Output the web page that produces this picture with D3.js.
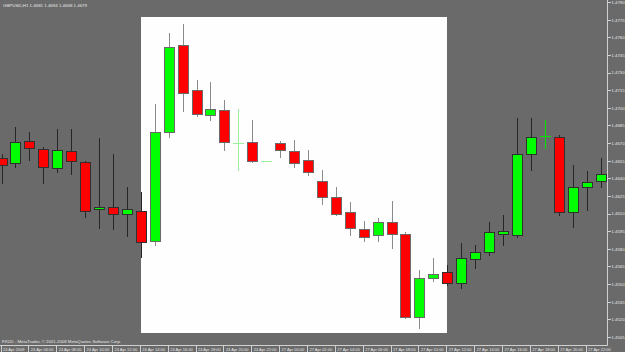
<!DOCTYPE html>
<html>
<head>
<meta charset="utf-8">
<script src="https://cdn.jsdelivr.net/npm/d3@7/dist/d3.min.js"></script>
<style>
body { margin: 0; background: #6a6a6a; overflow: hidden; }
svg { display: block; }
text { font-family: "Liberation Sans", Arial, sans-serif; fill: #e8e8e8; }
.axis line { stroke: #d0d0d0; shape-rendering: crispEdges; }
</style>
</head>
<body>
<svg id="svg1" width="625" height="352"></svg>
<script>
// GBPUSD H1 candles, 24-27 Apr 2009
var times = ['24 Apr 04:00','24 Apr 05:00','24 Apr 06:00','24 Apr 07:00','24 Apr 08:00','24 Apr 09:00',
    '24 Apr 10:00','24 Apr 11:00','24 Apr 12:00','24 Apr 13:00','24 Apr 14:00','24 Apr 15:00',
    '24 Apr 16:00','24 Apr 17:00','24 Apr 18:00','24 Apr 19:00','24 Apr 20:00','24 Apr 21:00',
    '24 Apr 22:00','24 Apr 23:00','27 Apr 00:00','27 Apr 01:00','27 Apr 02:00','27 Apr 03:00',
    '27 Apr 04:00','27 Apr 05:00','27 Apr 06:00','27 Apr 07:00','27 Apr 08:00','27 Apr 09:00',
    '27 Apr 10:00','27 Apr 11:00','27 Apr 12:00','27 Apr 13:00','27 Apr 14:00','27 Apr 15:00',
    '27 Apr 16:00','27 Apr 17:00','27 Apr 18:00','27 Apr 19:00','27 Apr 20:00','27 Apr 21:00',
    '27 Apr 22:00','27 Apr 23:00'];

var openP  = [1.4657,1.4653,1.4672,1.4665,1.4649,1.4663,1.4654,1.4614,1.4616,1.4610,1.4612,1.4587,
    1.4679,1.4753,1.4715,1.4694,1.4698,1.4670,1.4671,1.4655,1.4670,1.4663,1.4656,1.4638,
    1.4624,1.4611,1.4597,1.4592,1.4603,1.4593,1.4522,1.4555,1.4560,1.4551,1.4571,1.4577,
    1.4593,1.4592,1.4661,1.4676,1.4675,1.4611,1.4633,1.4638];
var highP  = [1.4661,1.4684,1.4679,1.4667,1.4682,1.4682,1.4655,1.4674,1.4661,1.4633,1.4628,1.4703,
    1.4764,1.4771,1.4724,1.4722,1.4707,1.4699,1.4690,1.4655,1.4672,1.4673,1.4664,1.4647,
    1.4633,1.4620,1.4604,1.4606,1.4621,1.4594,1.4562,1.4572,1.4566,1.4585,1.4583,1.4603,
    1.4609,1.4691,1.4691,1.4690,1.4677,1.4651,1.4646,1.4657];
var lowP   = [1.4636,1.4650,1.4656,1.4636,1.4645,1.4644,1.4607,1.4598,1.4597,1.4591,1.4573,1.4583,
    1.4675,1.4697,1.4693,1.4690,1.4664,1.4647,1.4654,1.4655,1.4658,1.4650,1.4643,1.4618,
    1.4609,1.4592,1.4587,1.4587,1.4581,1.4521,1.4513,1.4553,1.4549,1.4547,1.4564,1.4575,
    1.4583,1.4590,1.4647,1.4666,1.4609,1.4599,1.4613,1.4633];
var closeP = [1.4651,1.4671,1.4666,1.4650,1.4664,1.4655,1.4612,1.4616,1.4610,1.4614,1.4586,1.4679,
    1.4752,1.4713,1.4695,1.4699,1.4671,1.4670,1.4655,1.4655,1.4664,1.4653,1.4645,1.4624,
    1.4610,1.4598,1.4590,1.4603,1.4593,1.4522,1.4555,1.4559,1.4551,1.4572,1.4577,1.4594,
    1.4595,1.4661,1.4675,1.4676,1.4611,1.4633,1.4637,1.4644];

var priceTicks = [1.4505,1.4520,1.4535,1.4550,1.4565,1.4580,1.4595,1.4610,1.4625,1.4640,
    1.4655,1.4670,1.4685,1.4700,1.4715,1.4730,1.4745,1.4760,1.4775,1.4790];

var dateLabels = ['24 Apr 2009','24 Apr 06:00','24 Apr 08:00','24 Apr 10:00','24 Apr 12:00','24 Apr 14:00',
    '24 Apr 16:00','24 Apr 18:00','24 Apr 20:00','24 Apr 22:00','27 Apr 00:00','27 Apr 02:00',
    '27 Apr 04:00','27 Apr 06:00','27 Apr 08:00','27 Apr 10:00','27 Apr 12:00','27 Apr 14:00',
    '27 Apr 16:00','27 Apr 18:00','27 Apr 20:00','27 Apr 22:00'];

var header = 'GBPUSD,H1  1.4681 1.4694 1.4668 1.4679';
var copyright = 'FXDD - MetaTrader, \u00a9 2001-2008 MetaQuotes Software Corp.';

// highlighted window (candle indices)
var hiFrom = 10, hiTo = 32;

var svg = d3.select('#svg1');
var svgWidth = +svg.attr('width');
var svgHeight = +svg.attr('height');

var axisX = 607, axisY = 345;

var candles = times.map(function(t, i) {
    return {t: t, i: i, o: openP[i], h: highP[i], l: lowP[i], c: closeP[i]};
});

var xScale = d3.scaleLinear().domain([0, times.length - 1]).range([1.5, 600.5]);
var yScale = d3.scaleLinear().domain([1.4505, 1.4790]).range([337, 2]);

svg.append('rect')
    .attr('width', svgWidth)
    .attr('height', svgHeight)
    .style('fill', '#6a6a6a');

// white highlight panel
svg.append('rect')
    .attr('x', Math.round(xScale(hiFrom)))
    .attr('y', 17)
    .attr('width', Math.round(xScale(hiTo)) - Math.round(xScale(hiFrom)))
    .attr('height', 316)
    .style('fill', '#fefefe');

function inside(d) { return d.i > hiFrom && d.i < hiTo; }
function px(v) { return Math.round(v) + 0.5; }

var g = svg.append('g');

g.selectAll('.wick')
    .data(candles)
    .enter()
    .append('line')
    .attr('class', 'wick')
    .attr('x1', function(d) { return px(xScale(d.i)); })
    .attr('x2', function(d) { return px(xScale(d.i)); })
    .attr('y1', function(d) { return Math.round(yScale(d.h)); })
    .attr('y2', function(d) { return Math.round(yScale(d.l)) + 1; })
    .style('stroke', function(d) {
        if (d.o == d.c) return inside(d) ? '#9cf09c' : '#00e000';
        return inside(d) ? '#8a8a8a' : '#262626';
    })
    .style('shape-rendering', 'crispEdges');

var bodies = candles.filter(function(d) { return d.o != d.c; });
var dojis = candles.filter(function(d) { return d.o == d.c; });

g.selectAll('.body')
    .data(bodies)
    .enter()
    .append('rect')
    .attr('class', 'body')
    .attr('x', function(d) { return Math.round(xScale(d.i)) - 5 + 0.5; })
    .attr('y', function(d) { return Math.round(yScale(Math.max(d.o, d.c))) + 0.5; })
    .attr('width', 10)
    .attr('height', function(d) {
        return Math.max(1, Math.round(yScale(Math.min(d.o, d.c))) - Math.round(yScale(Math.max(d.o, d.c))));
    })
    .style('fill', function(d) { return d.c > d.o ? '#00ff00' : '#ff0000'; })
    .style('stroke', function(d) { return inside(d) ? '#6a6a6a' : '#303030'; })
    .style('shape-rendering', 'crispEdges');

g.selectAll('.doji')
    .data(dojis)
    .enter()
    .append('line')
    .attr('class', 'doji')
    .attr('x1', function(d) { return Math.round(xScale(d.i)) - 5; })
    .attr('x2', function(d) { return Math.round(xScale(d.i)) + 6; })
    .attr('y1', function(d) { return px(yScale(d.o)); })
    .attr('y2', function(d) { return px(yScale(d.o)); })
    .style('stroke', function(d) { return inside(d) ? '#9cf09c' : '#00e000'; })
    .style('shape-rendering', 'crispEdges');

// frame
svg.append('line')
    .attr('x1', axisX + 0.5).attr('x2', axisX + 0.5)
    .attr('y1', 0).attr('y2', axisY + 0.5)
    .style('stroke', '#d0d0d0');
svg.append('line')
    .attr('x1', 0).attr('x2', axisX + 0.5)
    .attr('y1', axisY + 0.5).attr('y2', axisY + 0.5)
    .style('stroke', '#d0d0d0');

// price axis
var yAxis = d3.axisRight(yScale)
    .tickValues(priceTicks)
    .tickSize(3)
    .tickFormat(d3.format('.4f'));

svg.append('g')
    .attr('class', 'axis')
    .attr('transform', 'translate(' + [axisX + 0.5, 0] + ')')
    .call(yAxis)
    .call(function(a) {
        a.select('.domain').remove();
        a.selectAll('text')
            .attr('x', 4)
            .style('font-size', '4.3px')
            .style('fill', '#e8e8e8');
    });

// time axis
var xAxis = d3.axisBottom(xScale)
    .tickValues(dateLabels.map(function(d, i) { return i * 2; }))
    .tickSize(6)
    .tickFormat(function(d) { return dateLabels[d / 2]; });

svg.append('g')
    .attr('class', 'axis')
    .attr('transform', 'translate(' + [0, axisY + 0.5] + ')')
    .call(xAxis)
    .call(function(a) {
        a.select('.domain').remove();
        a.selectAll('.tick line').attr('transform', 'translate(-1,0)');
        a.selectAll('text')
            .attr('y', 3)
            .attr('x', 1)
            .attr('dy', '0.71em')
            .style('text-anchor', 'start')
            .style('font-size', '4px')
            .style('fill', '#e8e8e8');
    });

svg.append('text')
    .attr('x', 3)
    .attr('y', 7)
    .style('font-size', '4.4px')
    .text(header);

svg.append('text')
    .attr('x', 2)
    .attr('y', 343)
    .style('font-size', '4.3px')
    .text(copyright);
</script>
</body>
</html>
